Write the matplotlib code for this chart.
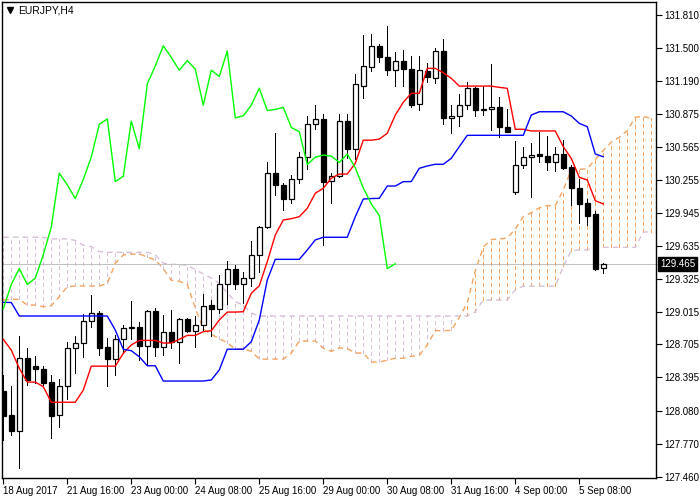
import numpy as np
import matplotlib
matplotlib.use("Agg")
import matplotlib.pyplot as plt

# EURJPY H4 candles
opens = [128.27, 128.04, 127.89, 128.58, 128.50, 128.47, 128.35, 128.04, 128.31, 128.67,
         128.72, 128.93, 129.00, 128.68, 128.57, 128.76, 128.87, 128.87, 128.69, 129.02,
         128.68, 128.82, 128.73, 128.94, 128.83, 128.89, 129.08, 129.04, 129.27, 129.42,
         129.27, 129.33, 129.55, 129.81, 130.32, 130.21, 130.08, 130.26, 130.47, 130.78,
         130.83, 130.25, 130.29, 130.81, 130.55, 131.14, 131.32, 131.52, 131.41, 131.29,
         131.38, 131.30, 130.97, 131.28, 131.22, 131.47, 130.84, 130.86, 130.96, 131.12,
         130.91, 130.92, 130.94, 130.75, 130.14, 130.40, 130.47, 130.50, 130.48, 130.42,
         130.50, 130.38, 130.18, 130.04, 129.93, 129.43]
highs = [128.42, 128.31, 128.78, 128.67, 128.60, 128.50, 128.42, 128.38, 128.73, 128.78,
         128.99, 129.17, 129.02, 128.77, 128.79, 128.89, 129.11, 128.92, 129.03, 129.05,
         128.98, 129.03, 128.95, 128.95, 128.97, 129.18, 129.12, 129.36, 129.49, 129.45,
         129.39, 129.68, 129.82, 130.42, 130.70, 130.23, 130.30, 130.52, 130.86, 130.96,
         130.88, 130.32, 130.88, 130.88, 131.25, 131.62, 131.63, 131.54, 131.71, 131.46,
         131.48, 131.42, 131.42, 131.36, 131.50, 131.58, 130.96, 131.07, 131.18, 131.13,
         131.14, 131.35, 131.04, 130.92, 130.62, 130.57, 130.60, 130.71, 130.67, 130.57,
         130.63, 130.40, 130.26, 130.08, 129.96, 129.47]
lows = [127.80, 127.85, 127.54, 128.32, 128.34, 128.32, 127.82, 127.93, 128.19, 128.44,
        128.59, 128.87, 128.61, 128.31, 128.42, 128.62, 128.76, 128.56, 128.51, 128.60,
        128.61, 128.67, 128.53, 128.82, 128.68, 128.84, 128.78, 129.00, 129.09, 129.23,
        129.10, 129.26, 129.39, 129.80, 130.11, 129.97, 130.04, 130.23, 130.36, 130.74,
        129.64, 130.04, 130.28, 130.46, 130.45, 131.03, 131.28, 131.37, 131.24, 131.14,
        131.14, 130.94, 130.91, 131.18, 131.17, 130.78, 130.70, 130.76, 130.92, 130.86,
        130.87, 130.73, 130.66, 130.71, 130.12, 130.37, 130.09, 130.42, 130.35, 130.34,
        130.36, 130.02, 129.85, 129.83, 129.41, 129.38]
closes = [128.03, 127.89, 128.58, 128.37, 128.47, 128.34, 128.03, 128.31, 128.67, 128.72,
          128.93, 129.00, 128.67, 128.57, 128.76, 128.86, 128.86, 128.69, 129.02, 128.68,
          128.82, 128.73, 128.94, 128.83, 128.89, 129.07, 129.04, 129.27, 129.42, 129.27,
          129.33, 129.55, 129.81, 130.32, 130.21, 130.08, 130.26, 130.47, 130.78, 130.83,
          130.24, 130.29, 130.81, 130.55, 131.16, 131.33, 131.52, 131.41, 131.29, 131.38,
          131.30, 130.96, 131.29, 131.23, 131.47, 130.84, 130.86, 130.96, 131.12, 130.91,
          130.92, 130.94, 130.75, 130.71, 130.40, 130.47, 130.49, 130.48, 130.42, 130.50,
          130.37, 130.18, 130.03, 129.92, 129.42, 129.465]

# Ichimoku lines
tenkan = [128.753, 128.652, 128.48, 128.35, 128.35, 128.307, 128.16, 128.16, 128.16, 128.16,
          128.275, 128.50, 128.50, 128.50, 128.50, 128.621, 128.70, 128.743, 128.743, 128.743,
          128.718, 128.718, 128.753, 128.79, 128.79, 128.825, 128.834, 128.935, 129.01, 129.01,
          129.013, 129.187, 129.258, 129.485, 129.736, 129.878, 129.89, 129.909, 129.988, 130.13,
          130.177, 130.271, 130.311, 130.311, 130.412, 130.63, 130.63, 130.64, 130.695, 130.867,
          130.987, 131.072, 131.072, 131.307, 131.307, 131.266, 131.213, 131.14, 131.14, 131.14,
          131.14, 131.14, 131.128, 131.119, 130.733, 130.733, 130.717, 130.717, 130.717, 130.717,
          130.569, 130.459, 130.28, 130.255, 130.06, 130.029]
kijun = [129.102, 129.10, 128.973, 128.973, 128.973, 128.973, 128.973, 128.973, 128.973, 128.973,
         128.973, 128.973, 128.973, 128.973, 128.84, 128.659, 128.646, 128.589, 128.504, 128.504,
         128.36, 128.36, 128.36, 128.36, 128.36, 128.36, 128.37, 128.464, 128.66, 128.66,
         128.66, 128.73, 128.935, 129.312, 129.507, 129.507, 129.507, 129.507, 129.595, 129.69,
         129.715, 129.715, 129.715, 129.715, 129.909, 130.075, 130.08, 130.082, 130.198, 130.198,
         130.239, 130.24, 130.365, 130.387, 130.403, 130.403, 130.459, 130.569, 130.676, 130.676,
         130.676, 130.676, 130.676, 130.676, 130.676, 130.676, 130.867, 130.898, 130.898, 130.898,
         130.898, 130.858, 130.789, 130.757, 130.50, 130.474]
span_a = [129.124, 129.13, 129.13, 129.076, 129.076, 129.06, 129.07, 129.155, 129.25, 129.256,
          129.256, 129.256, 129.256, 129.28, 129.47, 129.548, 129.557, 129.557, 129.53, 129.50,
          129.42, 129.31, 129.30, 129.27, 129.05, 128.85, 128.80, 128.76, 128.72, 128.662,
          128.662, 128.64, 128.567, 128.567, 128.567, 128.567, 128.624, 128.737, 128.737, 128.737,
          128.67, 128.64, 128.673, 128.666, 128.624, 128.624, 128.539, 128.539, 128.557, 128.575,
          128.575, 128.593, 128.602, 128.70, 128.835, 128.835, 128.837, 128.959, 129.097, 129.399,
          129.622, 129.693, 129.699, 129.708, 129.792, 129.91, 129.946, 129.993, 130.013, 130.013,
          130.16, 130.353, 130.355, 130.361, 130.447, 130.533, 130.613, 130.656, 130.719, 130.847,
          130.855, 130.835]
span_b = [129.715, 129.715, 129.715, 129.715, 129.715, 129.715, 129.70, 129.70, 129.70, 129.685,
          129.64, 129.626, 129.58, 129.573, 129.573, 129.573, 129.573, 129.573, 129.573, 129.55,
          129.47, 129.46, 129.46, 129.45, 129.41, 129.37, 129.33, 129.28, 129.19, 129.108,
          129.077, 129.0, 128.973, 128.973, 128.973, 128.973, 128.973, 128.973, 128.973, 128.973,
          128.973, 128.973, 128.973, 128.973, 128.973, 128.973, 128.973, 128.973, 128.973, 128.973,
          128.973, 128.973, 128.973, 128.973, 128.973, 128.973, 128.973, 128.973, 128.973, 129.013,
          129.124, 129.124, 129.124, 129.124, 129.218, 129.255, 129.255, 129.255, 129.255, 129.255,
          129.44, 129.588, 129.595, 129.595, 129.62, 129.62, 129.62, 129.62, 129.62, 129.62,
          129.765, 129.765]
chikou_shift = 26
last_price = 129.465

price_ticks = [131.810, 131.500, 131.190, 130.875, 130.565, 130.255, 129.945, 129.635,
               129.325, 129.015, 128.705, 128.395, 128.080, 127.770, 127.460]
time_ticks = [0, 8, 16, 24, 32, 40, 48, 56, 64, 72]
time_labels = ["18 Aug 2017", "21 Aug 16:00", "23 Aug 00:00", "24 Aug 08:00", "25 Aug 16:00",
               "29 Aug 00:00", "30 Aug 08:00", "31 Aug 16:00", "4 Sep 00:00", "5 Sep 08:00"]

plt.rcParams['font.family'] = ['Liberation Sans', 'DejaVu Sans']
plt.rcParams['font.size'] = 7

fig = plt.figure(figsize=(7, 5), dpi=100)
ax = fig.add_axes([2 / 700, 22 / 500, 654 / 700, 476 / 500])

o = np.array(opens)
h = np.array(highs)
l = np.array(lows)
c = np.array(closes)
x = np.arange(len(o))

px = 0.72  # one pixel at 100 dpi

# cloud hatches
sa = np.array(span_a)
sb = np.array(span_b)
xc = np.arange(len(sa))
dash = (0, (4, 3))
up = sa >= sb
ax.vlines(xc[up], sb[up], sa[up], colors='#F4A460', linestyles=dash, lw=px,
          antialiased=False, zorder=1)
ax.vlines(xc[~up], sa[~up], sb[~up], colors='#D8BFD8', linestyles=dash, lw=px,
          antialiased=False, zorder=1)
ax.plot(xc, sa, color='#F4A460', ls=dash, lw=1, zorder=1)
ax.plot(xc, sb, color='#D8BFD8', ls=dash, lw=1, zorder=1)

# current price line
ax.axhline(last_price, color='#C0C0C0', lw=px, antialiased=False, zorder=1.5)

# candles
ax.vlines(x, l, h, color='black', lw=px, antialiased=False, zorder=2)
bull = c >= o
body_lo = np.minimum(o, c)
body_h = np.maximum(np.abs(c - o), 0.012)
ax.bar(x[bull], body_h[bull], bottom=body_lo[bull], width=0.62,
       facecolor='white', edgecolor='black', lw=0.9, zorder=2.5)
ax.bar(x[~bull], body_h[~bull], bottom=body_lo[~bull], width=0.62,
       facecolor='black', edgecolor='black', lw=0.9, zorder=2.5)

# tenkan, kijun, chikou
ax.plot(x, tenkan, color='red', lw=1, zorder=3)
ax.plot(x, kijun, color='#0000FF', lw=1, zorder=3)
ax.plot(x[:-chikou_shift], c[chikou_shift:], color='#00FF00', lw=1, zorder=3)

ax.set_xlim(-0.16, 81.59)
ax.set_ylim(127.446, 131.9325)

for s in ax.spines.values():
    s.set_color('black')
    s.set_linewidth(1)

ax.yaxis.tick_right()
ax.set_yticks(price_ticks)
ax.set_yticklabels([f"{p:.3f}" for p in price_ticks])
ax.tick_params(axis='y', direction='out', length=4, width=0.8, pad=2, colors='black')

ax.set_xticks(time_ticks)
ax.set_xticklabels(time_labels)
ax.tick_params(axis='x', direction='out', length=4, width=0.8, pad=2, colors='black')
for lab in ax.get_xticklabels():
    lab.set_ha('left')

ax.annotate(f"{last_price:.3f}", xy=(1, last_price), xycoords=('axes fraction', 'data'),
            xytext=(3, 0), textcoords='offset points', ha='left', va='center',
            color='white', fontsize=7,
            bbox=dict(boxstyle='square,pad=0.2', fc='black', ec='black'))

ax.text(0.024, 0.983, "EURJPY,H4", transform=ax.transAxes, ha='left', va='center', fontsize=7.5)
ax.plot([0.012], [0.983], marker='v', color='black', markersize=4, transform=ax.transAxes, clip_on=False)

fig.savefig("out.png", dpi=100)
